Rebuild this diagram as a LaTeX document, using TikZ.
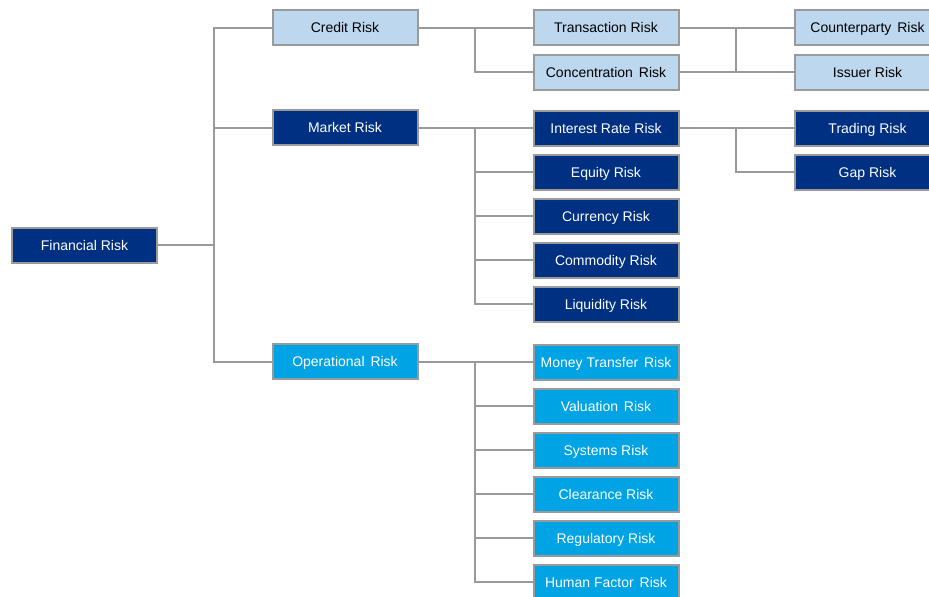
\documentclass[tikz,border=0pt]{standalone}
\usepackage{fontspec}
\setmainfont{Liberation Sans}
\definecolor{lightb}{HTML}{BDD7EE}
\definecolor{navy}{HTML}{003082}
\definecolor{cyanb}{HTML}{00A3E4}
\definecolor{edge}{HTML}{9A9A9A}
\newcommand{\gp}{\ \hspace{2pt}}
\begin{document}
\begin{tikzpicture}[x=1pt,y=-1pt,
  box/.style={draw=edge,line width=2pt,minimum width=145pt,minimum height=35pt,inner sep=0pt,text height=10pt,text depth=0pt,anchor=center,font=\fontsize{14}{16}\selectfont},
  lb/.style={box,fill=lightb,text=black},
  nb/.style={box,fill=navy,text=white},
  cb/.style={box,fill=cyanb,text=white},
  conn/.style={draw=edge,line width=2pt}]
\useasboundingbox (0,0) rectangle (929,597);
\clip (0,0) rectangle (929,597);
% level 1
\node[nb] (fin) at (84.5,245) {Financial Risk};
% level 2
\node[lb] (credit) at (345,27.5) {Credit Risk};
\node[nb] (market) at (345,127.5) {Market Risk};
\node[cb] (oper) at (345,361.5) {Operational\gp Risk};
% level 3
\node[lb] (trans) at (606,27.5) {Transaction Risk};
\node[lb] (conc) at (606,72) {Concentration\gp Risk};
\node[nb] (irate) at (606,128) {Interest Rate Risk};
\node[nb] (equity) at (606,172) {Equity Risk};
\node[nb] (curr) at (606,216) {Currency Risk};
\node[nb] (comm) at (606,260) {Commodity Risk};
\node[nb] (liq) at (606,304) {Liquidity Risk};
\node[cb] (money) at (606,362) {Money Transfer\gp Risk};
\node[cb] (valu) at (606,406) {Valuation\gp Risk};
\node[cb] (sys) at (606,450) {Systems Risk};
\node[cb] (clear) at (606,494) {Clearance Risk};
\node[cb] (reg) at (606,538) {Regulatory Risk};
\node[cb] (human) at (606,582) {Human Factor\gp Risk};
% level 4
\node[lb] (count) at (867.5,27.5) {Counterparty\gp Risk};
\node[lb] (issuer) at (867.5,72) {Issuer Risk};
\node[nb] (trad) at (867.5,128) {Trading Risk};
\node[nb] (gap) at (867.5,172) {Gap Risk};
% connectors level 1
\coordinate (j1) at (214,245);
\draw[conn] (fin.east) -- (j1);
\draw[conn] (j1) |- (credit.west);
\draw[conn] (j1) |- (market.west);
\draw[conn] (j1) |- (oper.west);
% credit
\coordinate (j2) at (475,27.5);
\draw[conn] (credit.east) -- (trans.west);
\draw[conn] (j2) |- (conc.west);
% market
\coordinate (j3) at (475,127.5);
\draw[conn] (market.east) -- (j3) |- (irate.west);
\draw[conn] (j3) |- (equity.west);
\draw[conn] (j3) |- (curr.west);
\draw[conn] (j3) |- (comm.west);
\draw[conn] (j3) |- (liq.west);
% operational
\coordinate (j4) at (475,361.5);
\draw[conn] (oper.east) -- (j4) |- (money.west);
\draw[conn] (j4) |- (valu.west);
\draw[conn] (j4) |- (sys.west);
\draw[conn] (j4) |- (clear.west);
\draw[conn] (j4) |- (reg.west);
\draw[conn] (j4) |- (human.west);
% level 3 to 4
\coordinate (j5) at (736,27.5);
\draw[conn] (trans.east) -- (count.west);
\draw[conn] (conc.east) -- (issuer.west);
\draw[conn] (j5) -- (736,72);
\coordinate (j6) at (736,128);
\draw[conn] (irate.east) -- (trad.west);
\draw[conn] (j6) |- (gap.west);
\end{tikzpicture}
\end{document}
